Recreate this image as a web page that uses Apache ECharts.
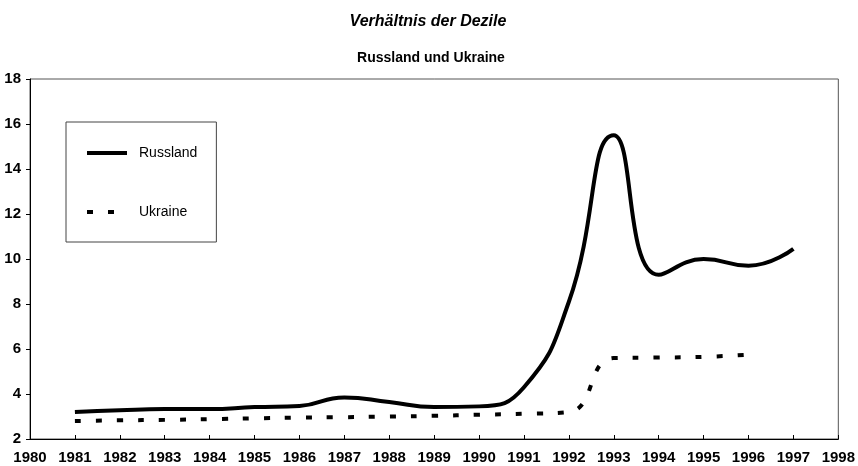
<!DOCTYPE html>
<html>
  <head>
    <meta charset="utf-8">
    <title>Verhältnis der Dezile</title>
    <style>
    html, body {margin:0; padding:0; background:#fff}
    #chart {width:858px; height:466px}
    </style>
    <script src="https://cdn.jsdelivr.net/npm/echarts@6/dist/echarts.min.js"></script>
  </head>
  <body>
    <div id="chart"></div>
    <script>
    const years=[1981,1982,1983,1984,1985,1986,1987,1988,1989,1990,1991,1992,1993,1994,1995,1996,1997];
    const russland=[3.2,3.28,3.33,3.33,3.42,3.47,3.85,3.64,3.42,3.45,4.3,8.1,15.5,9.3,10.0,9.7,10.45];
    const ukraine=[2.8,2.83,2.85,2.88,2.92,2.95,2.97,3.0,3.03,3.08,3.12,3.2,5.6,5.62,5.65,5.75];
    const yTicks=[2,4,6,8,10,12,14,16,18];

    const font='"Liberation Sans", Arial, sans-serif';
    const narrow='"Liberation Sans Narrow", "Arial Narrow", "Liberation Sans", sans-serif';

    let chart=echarts.init(document.getElementById('chart'));

    chart.setOption({
      animation: false,
      title: [
        {
          text: 'Verhältnis der Dezile',
          left: 423, top: 9, textAlign: 'center',
          textStyle: {fontFamily: font, fontSize: 16, fontWeight: 'bold', fontStyle: 'italic', color: '#000'}
        },
        {
          text: 'Russland und Ukraine',
          left: 426, top: 46, textAlign: 'center',
          textStyle: {fontFamily: font, fontSize: 14, fontWeight: 'bold', color: '#000'}
        }
      ],
      legend: {
        orient: 'vertical',
        left: 66, top: 122,
        padding: [24, 19, 23, 19],
        itemWidth: 40, itemHeight: 14,
        itemGap: 45,
        borderColor: '#444', borderWidth: 1,
        itemStyle: {opacity: 0},
        textStyle: {fontFamily: font, fontSize: 14, color: '#000', padding: [0, 0, 0, 7]},
        data: [
          {name: 'Russland', lineStyle: {width: 4}},
          {name: 'Ukraine', lineStyle: {width: 4}}
        ]
      },
      grid: {
        left: 30, right: 19, top: 79, bottom: 27,
        show: true, borderColor: '#555', borderWidth: 1
      },
      xAxis: {
        type: 'value',
        min: 1980, max: 1998, interval: 1,
        axisLine: {lineStyle: {color: '#000', width: 1}},
        axisTick: {inside: true, length: 4, lineStyle: {color: '#000'}},
        axisLabel: {
          color: '#000', fontFamily: narrow, fontSize: 15, fontWeight: 'bold', margin: 11,
          formatter: v=>String(v)
        },
        splitLine: {show: false}
      },
      yAxis: {
        type: 'value',
        min: yTicks[0], max: yTicks[yTicks.length-1], interval: 2,
        axisLine: {show: true, lineStyle: {color: '#000', width: 1}},
        axisTick: {show: true, length: 4, lineStyle: {color: '#000'}},
        axisLabel: {color: '#000', fontFamily: narrow, fontSize: 15, fontWeight: 'bold', margin: 9},
        splitLine: {show: false}
      },
      series: [
        {
          name: 'Russland',
          type: 'line',
          smooth: 0.5,
          symbol: 'none',
          lineStyle: {color: '#000', width: 4},
          itemStyle: {color: '#000'},
          data: years.map((y, i)=>[y, russland[i]])
        },
        {
          name: 'Ukraine',
          type: 'line',
          smooth: 0.5,
          symbol: 'none',
          lineStyle: {color: '#000', width: 4, type: [6, 15]},
          itemStyle: {color: '#000'},
          data: ukraine.map((v, i)=>[years[i], v])
        }
      ]
    });
    </script>
  </body>
</html>
